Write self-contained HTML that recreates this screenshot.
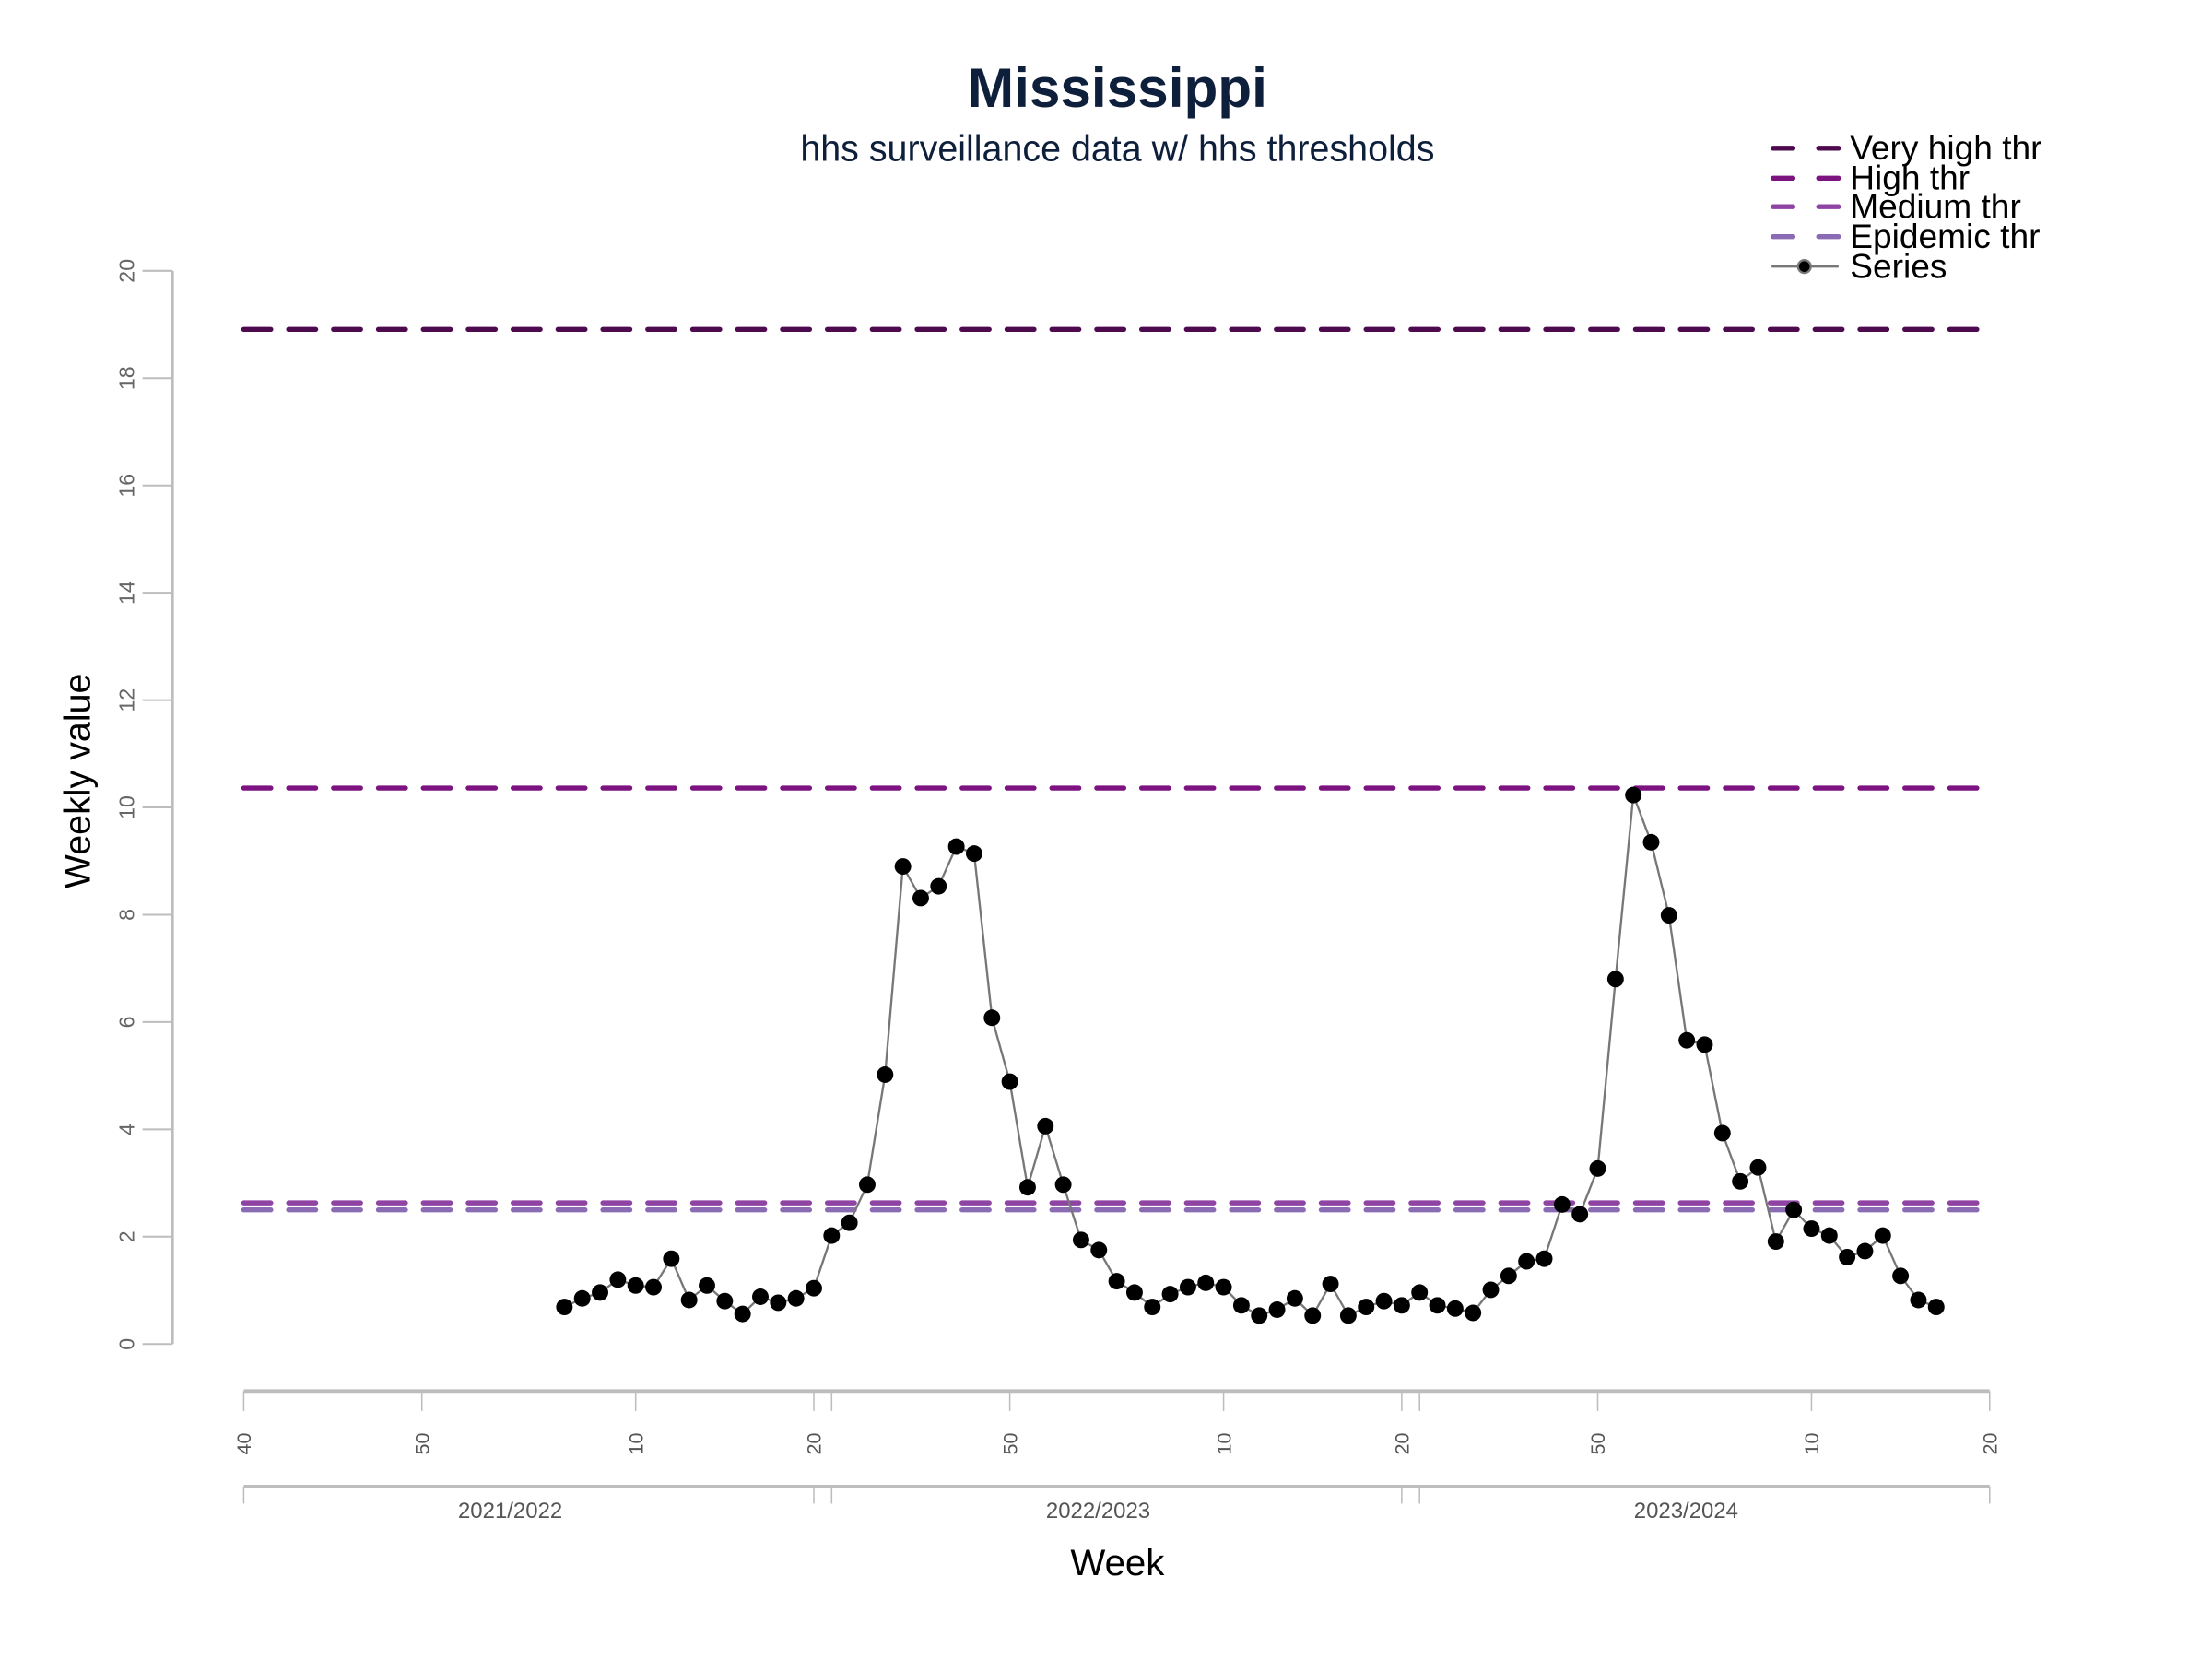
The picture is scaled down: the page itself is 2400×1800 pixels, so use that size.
<!DOCTYPE html>
<html><head><meta charset="utf-8"><style>html,body{margin:0;padding:0;background:#fff}svg{display:block}</style></head>
<body>
<svg width="2400" height="1800" viewBox="0 0 1552 1164" xmlns="http://www.w3.org/2000/svg" font-family="Liberation Sans, sans-serif">
<text x="784" y="75" text-anchor="middle" font-size="39" font-weight="bold" fill="#0e1f3b">Mississippi</text>
<text x="784" y="113" text-anchor="middle" font-size="25.5" fill="#0e1f3b">hhs surveillance data w/ hhs thresholds</text>
<g id="legend"></g>
<g id="yaxis"></g>
<g id="xaxis"></g>
<g id="thr"></g>
<g id="series"></g>
<text transform="translate(63,548) rotate(-90)" text-anchor="middle" font-size="25.5" fill="#000">Weekly value</text>
<text x="784" y="1105" text-anchor="middle" font-size="26" fill="#000">Week</text>
</svg>
<script>
const values = [0.69,0.85,0.96,1.2,1.09,1.06,1.59,0.82,1.09,0.8,0.56,0.88,0.77,0.85,1.04,
2.02,2.26,2.97,5.02,8.9,8.31,8.53,9.27,9.14,6.08,4.89,2.92,4.06,2.97,1.94,1.75,1.17,0.96,0.69,0.93,1.06,1.14,1.06,0.72,0.53,0.64,0.85,0.53,1.12,0.53,0.69,0.8,0.72,
0.96,0.72,0.66,0.58,1.01,1.27,1.54,1.59,2.6,2.42,3.27,6.8,10.23,9.35,7.99,5.66,5.58,3.93,3.03,3.29,1.91,2.5,2.15,2.02,1.62,1.73,2.02,1.27,0.82,0.69];
const startIndex = 18;
const thrNames = ["Very high thr","High thr","Medium thr","Epidemic thr"];
const thrValues = [18.91,10.36,2.63,2.5];
const thrColors = ["#4d0a4f","#7c1381","#8f43a3","#8b6bb3"];
const seasons = ["2021/2022","2022/2023","2023/2024"];
const weekTickOffsets = [0,10,22,32];
const weekTickLabels = ["40","50","10","20"];
const yTicks = [0,2,4,6,8,10,12,14,16,18,20];
const NS="http://www.w3.org/2000/svg";
const X0=171, STEP=12.5, PER=33;
const xs = j => X0 + j*STEP;
const ys = v => 943 - v*37.65;
function mk(p,tag,attrs){const e=document.createElementNS(NS,tag);for(const k in attrs)e.setAttribute(k,attrs[k]);p.appendChild(e);return e;}
const ya=document.getElementById('yaxis');
let l=mk(ya,'line',{x1:121,x2:121,y1:ys(20),y2:ys(0),stroke:'#bdbdbd','stroke-width':2});

yTicks.forEach(t=>{
 let tk=mk(ya,'line',{x1:100,x2:121,y1:ys(t),y2:ys(t),stroke:'#bdbdbd','stroke-width':1.3});
 
 let tx=mk(ya,'text',{transform:`translate(94,${ys(t)}) rotate(-90)`,'text-anchor':'middle','font-size':15,fill:'#666'});
 tx.textContent=t;
 
});
const xa=document.getElementById('xaxis');
const xEnd=xs(3*PER-1);
l=mk(xa,'line',{x1:X0,x2:xEnd,y1:976,y2:976,stroke:'#bdbdbd','stroke-width':2.5});

l=mk(xa,'line',{x1:X0,x2:xEnd,y1:1043,y2:1043,stroke:'#bdbdbd','stroke-width':2.5});

seasons.forEach((s,si)=>{
 weekTickOffsets.forEach((o,wi)=>{
  const x=xs(si*PER+o);
  let tk=mk(xa,'line',{x1:x,x2:x,y1:976,y2:990,stroke:'#bdbdbd','stroke-width':1});
  
  if(si===0||wi>0){
   let tx=mk(xa,'text',{transform:`translate(${x+5},1013) rotate(-90)`,'text-anchor':'middle','font-size':14,fill:'#555'});
   tx.textContent=weekTickLabels[wi];
   
  }
 });
 const a=xs(si*PER), b=xs(si*PER+PER-1);
 [a,b].forEach(x=>{let tk=mk(xa,'line',{x1:x,x2:x,y1:1043,y2:1055,stroke:'#bdbdbd','stroke-width':1});
  });
 let tx=mk(xa,'text',{x:(a+b)/2-13,y:1065,'text-anchor':'middle','font-size':15.5,fill:'#555'});
 tx.textContent=s;
 
});
const tg=document.getElementById('thr');
thrValues.forEach((v,i)=>{
 let ln=mk(tg,'line',{x1:X0,x2:xEnd,y1:ys(v),y2:ys(v),stroke:thrColors[i],'stroke-width':3.5,'stroke-dasharray':'19 12.5','stroke-linecap':'round'});
 
 
});
const sg=document.getElementById('series');
const pts=values.map((v,i)=>xs(startIndex+i)+','+ys(v)).join(' ');
let pl=mk(sg,'polyline',{points:pts,fill:'none',stroke:'#777','stroke-width':1.5});

values.forEach((v,i)=>{
 let c=mk(sg,'circle',{cx:xs(startIndex+i),cy:ys(v),r:5.8,fill:'#000'});
 
});
const lg=document.getElementById('legend');
const ly=[104,125,145,166,187];
thrNames.forEach((n,i)=>{
 let ln=mk(lg,'line',{x1:1244,x2:1290,y1:ly[i],y2:ly[i],stroke:thrColors[i],'stroke-width':3.5,'stroke-dasharray':'14 18','stroke-linecap':'round'});
 
 let tx=mk(lg,'text',{x:1298,y:ly[i]+8,'font-size':24,fill:'#000'});
 tx.textContent=n;
 
});
l=mk(lg,'line',{x1:1243,x2:1290,y1:ly[4],y2:ly[4],stroke:'#777','stroke-width':1.5});

l=mk(lg,'circle',{cx:1266,cy:ly[4],r:4.5,fill:'#000',stroke:'#777','stroke-width':1.5});

l=mk(lg,'text',{x:1298,y:ly[4]+8,'font-size':24,fill:'#000'});
l.textContent='Series';

</script>
</body></html>
